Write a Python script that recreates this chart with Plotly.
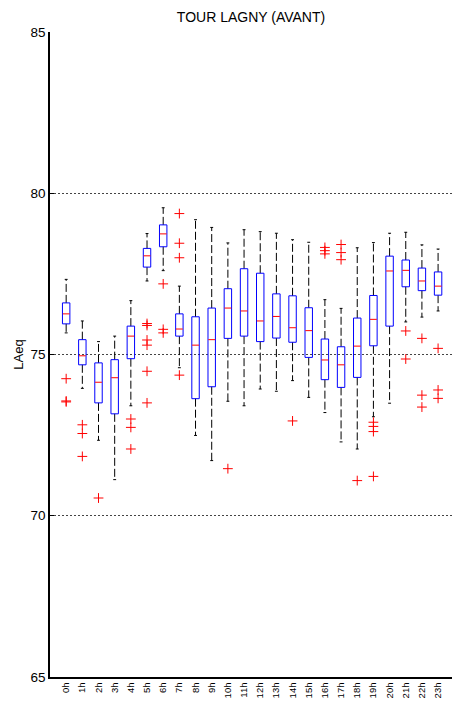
import plotly.graph_objects as go

hours = [f"{h}h" for h in range(24)]
upper = [77.33, 76.04, 75.40, 75.57, 76.67, 78.75, 79.55, 77.12, 79.18, 78.94, 78.46, 78.87,
         78.81, 78.76, 78.56, 78.48, 76.70, 76.43, 78.31, 78.47, 78.76, 78.79, 78.40, 78.27]
q3 = [76.60, 75.46, 74.74, 74.84, 75.88, 78.29, 79.02, 76.26, 76.17, 76.44, 77.04, 77.66,
      77.52, 76.88, 76.82, 76.45, 75.48, 75.24, 76.13, 76.83, 78.05, 77.93, 77.68, 77.56]
median = [76.26, 74.96, 74.14, 74.28, 75.57, 78.06, 78.74, 75.79, 75.29, 75.46, 76.44, 76.35,
          76.04, 76.18, 75.83, 75.74, 74.83, 74.68, 75.26, 76.09, 77.59, 77.61, 77.28, 77.12]
q1 = [75.95, 74.68, 73.50, 73.16, 74.87, 77.71, 78.34, 75.57, 73.63, 74.00, 75.50, 75.57,
      75.40, 75.51, 75.38, 74.91, 74.22, 73.98, 74.29, 75.27, 75.88, 77.10, 76.98, 76.84]
lower = [75.67, 73.95, 72.34, 71.12, 73.41, 77.28, 77.60, 74.59, 72.49, 71.71, 73.55, 73.41,
         73.93, 73.86, 74.19, 73.67, 73.20, 72.29, 72.07, 73.07, 73.49, 76.01, 76.16, 76.35]
out_hour = [0, 0, 0, 1, 1, 1, 2, 4, 4, 4,
            5, 5, 5, 5, 5, 5, 6, 6, 6,
            7, 7, 7, 7, 10, 14, 16, 16, 16, 17, 17, 17,
            18, 19, 19, 19, 19, 21, 21, 22, 22, 22, 23, 23, 23]
out_val = [74.25, 73.56, 73.53, 72.82, 72.55, 71.84, 70.55, 73.00, 72.74, 72.07,
           75.96, 75.90, 75.45, 75.29, 74.48, 73.50, 77.19, 75.78, 75.67,
           79.37, 78.45, 78.00, 74.36, 71.46, 72.94, 78.32, 78.22, 78.12, 78.41, 78.16, 77.94,
           71.09, 72.90, 72.77, 72.61, 71.22, 75.73, 74.86, 75.50, 73.74, 73.37, 75.19, 73.90, 73.64]
y_ticks = [65, 70, 75, 80, 85]

xs = list(range(len(hours)))
BW = 0.46
CW = 0.09

fig = go.Figure()

# whiskers (dashed)
wx, wy = [], []
for i in xs:
    wx += [i, i, None, i, i, None]
    wy += [q3[i], upper[i], None, q1[i], lower[i], None]
fig.add_trace(go.Scatter(x=wx, y=wy, mode="lines",
                         line=dict(color="black", width=1, dash="8px,3px"),
                         hoverinfo="skip", showlegend=False))
# caps
cx, cy = [], []
for i in xs:
    cx += [i - CW, i + CW, None, i - CW, i + CW, None]
    cy += [upper[i], upper[i], None, lower[i], lower[i], None]
fig.add_trace(go.Scatter(x=cx, y=cy, mode="lines",
                         line=dict(color="black", width=1),
                         hoverinfo="skip", showlegend=False))

# boxes (interquartile rectangles)
bx, by = [], []
for i in xs:
    l, r = i - BW / 2, i + BW / 2
    bx += [l, r, r, l, l, None]
    by += [q1[i], q1[i], q3[i], q3[i], q1[i], None]
fig.add_trace(go.Scatter(x=bx, y=by, mode="lines",
                         line=dict(color="#0000ff", width=1),
                         hoverinfo="skip", showlegend=False))

# medians
mx, my = [], []
for i in xs:
    mx += [i - BW / 2 + 0.02, i + BW / 2 - 0.02, None]
    my += [median[i], median[i], None]
fig.add_trace(go.Scatter(x=mx, y=my, mode="lines",
                         line=dict(color="#ff0000", width=1),
                         hoverinfo="skip", showlegend=False))

# outliers
fig.add_trace(go.Scatter(x=out_hour, y=out_val, mode="markers",
                         marker=dict(symbol="cross-thin", size=7,
                                     line=dict(color="#ff0000", width=1)),
                         hoverinfo="skip", showlegend=False))

fig.update_layout(
    width=452, height=704,
    margin=dict(l=50, r=0, t=32, b=27, autoexpand=False),
    paper_bgcolor="white", plot_bgcolor="white",
    font=dict(family="Liberation Sans, Arial, sans-serif", color="black", size=13),
    title=dict(text="TOUR LAGNY (AVANT)", x=0.5, xref="paper", xanchor="center",
               y=0.976, yanchor="middle", font=dict(size=14)),
)
fig.update_xaxes(range=[-1, 23.86], tickvals=xs, ticktext=hours, tickangle=-90,
                 tickfont=dict(size=9.5), showgrid=False, zeroline=False,
                 showline=True, linecolor="black", linewidth=1.5, ticks="",
                 mirror=False, automargin=False)
fig.update_yaxes(range=[65, 85], tickvals=y_ticks, showgrid=True,
                 gridcolor="#444444", griddash="2px,2px", gridwidth=1,
                 zeroline=False, showline=True, linecolor="black", linewidth=1.5,
                 ticks="inside", ticklen=4, tickcolor="black", automargin=False,
                 title=dict(text="LAeq", font=dict(size=13), standoff=4),
                 tickfont=dict(size=13.5))

fig.write_html("out.html", config={"displayModeBar": False},
               post_script="document.body.style.margin='0';document.body.style.overflow='hidden';")
